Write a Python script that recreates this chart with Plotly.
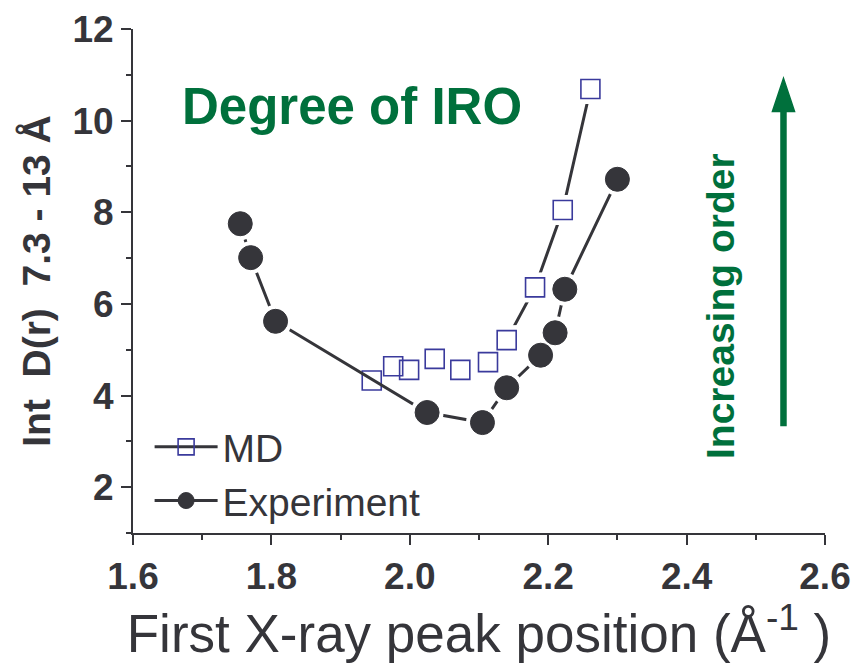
import plotly.graph_objects as go

# First X-ray peak position (1/Å) and integrated D(r) over 7.3-13 Å
md_q = [1.945, 1.976, 1.999, 2.036, 2.073, 2.113, 2.140, 2.181, 2.221, 2.261]
md_int = [4.33, 4.64, 4.56, 4.80, 4.56, 4.73, 5.21, 6.36, 8.05, 10.69]

exp_q = [1.755, 1.770, 1.806, 2.025, 2.105, 2.140, 2.189, 2.210, 2.224, 2.300]
exp_int = [7.75, 7.01, 5.62, 3.63, 3.41, 4.17, 4.88, 5.37, 6.32, 8.72]

x_tick_vals = [1.6, 1.8, 2.0, 2.2, 2.4, 2.6]
x_tick_text = ["1.6", "1.8", "2.0", "2.2", "2.4", "2.6"]
y_tick_vals = [2, 4, 6, 8, 10, 12]
y_tick_text = ["2", "4", "6", "8", "10", "12"]

INK = "#35353a"
BLUE = "#3a3a9c"
GREEN = "#00703c"
FONT = "Liberation Sans, Arial, Helvetica, sans-serif"

fig = go.Figure()


def add_series(q, val, name, marker, halo_symbol, halo_size):
    # full series (line + markers) carries the legend entry
    fig.add_trace(go.Scatter(x=q, y=val, mode="lines+markers", name=name,
                             line=dict(color=INK, width=3), marker=marker))
    # white halo so the line segments stop short of each marker
    fig.add_trace(go.Scatter(x=q, y=val, mode="markers", showlegend=False,
                             hoverinfo="skip",
                             marker=dict(symbol=halo_symbol, size=halo_size,
                                         color="white", line=dict(width=0))))
    # markers redrawn on top
    fig.add_trace(go.Scatter(x=q, y=val, mode="markers", showlegend=False,
                             hoverinfo="skip", marker=marker))


add_series(md_q, md_int, "MD",
           dict(symbol="square-open", size=19, color=BLUE,
                line=dict(width=1.6, color=BLUE)),
           "square", 30)
add_series(exp_q, exp_int, "Experiment",
           dict(symbol="circle", size=24, color=INK,
                line=dict(width=1, color=INK)),
           "circle", 33)

tick_font = dict(family=FONT, size=37, color=INK, weight="bold")

fig.update_layout(
    width=856, height=663,
    margin=dict(l=133, r=31, t=29, b=130),
    paper_bgcolor="white", plot_bgcolor="white",
    font=dict(family=FONT, color=INK),
    showlegend=True,
    legend=dict(x=0.024, y=0.0, xanchor="left", yanchor="bottom",
                bgcolor="rgba(0,0,0,0)", borderwidth=0, itemwidth=63,
                font=dict(family=FONT, size=39, color=INK),
                tracegroupgap=0),
    xaxis=dict(range=[1.6, 2.6], tickvals=x_tick_vals, ticktext=x_tick_text,
               ticks="outside", ticklen=10, tickwidth=2, tickcolor=INK,
               showline=True, linewidth=2, linecolor=INK, automargin=False,
               showgrid=False, zeroline=False, tickfont=tick_font,
               minor=dict(dtick=0.1, tick0=1.6, ticks="outside", ticklen=5,
                          tickwidth=2, tickcolor=INK, showgrid=False),
               title=dict(text="First X-ray peak position (Å<sup>-1</sup> )",
                          font=dict(family=FONT, size=53, color=INK),
                          standoff=20)),
    yaxis=dict(range=[1, 12], tickvals=y_tick_vals, ticktext=y_tick_text,
               ticks="outside", ticklen=10, tickwidth=2, tickcolor=INK,
               showline=True, linewidth=2, linecolor=INK, automargin=False,
               showgrid=False, zeroline=False, tickfont=tick_font,
               minor=dict(dtick=1, tick0=1, ticks="outside", ticklen=5,
                          tickwidth=2, tickcolor=INK, showgrid=False),
               title=dict(text="Int\u00a0\u00a0D(r)\u00a0\u00a07.3 - 13 Å",
                          font=dict(family=FONT, size=39, color=INK,
                                    weight="bold"),
                          standoff=10)),
    xaxis2=dict(overlaying="x", side="top", range=[1.6, 2.6], dtick=0.1,
                tick0=1.6, ticks="inside", ticklen=4, tickwidth=1.5,
                tickcolor=INK, showline=True, linewidth=2, linecolor=INK,
                automargin=False,
                showticklabels=False, showgrid=False, zeroline=False),
    yaxis2=dict(overlaying="y", side="right", range=[1, 12], dtick=1,
                tick0=1, ticks="inside", ticklen=4, tickwidth=1.5,
                tickcolor=INK, showline=True, linewidth=2, linecolor=INK,
                automargin=False,
                showticklabels=False, showgrid=False, zeroline=False),
)

# Annotations
fig.add_annotation(x=1.916, y=10.30, xref="x", yref="y", text="Degree of IRO",
                   showarrow=False, xanchor="center", yanchor="middle",
                   font=dict(family=FONT, size=51, color=GREEN, weight="bold"))
fig.add_annotation(x=2.448, y=5.95, xref="x", yref="y", text="Increasing order",
                   showarrow=False, textangle=-90, xanchor="center",
                   yanchor="middle",
                   font=dict(family=FONT, size=39, color=GREEN, weight="bold"))

# Upward arrow
arrow_x, arrow_y0, arrow_base, arrow_tip = 2.540, 3.33, 10.20, 10.92
half_w = 0.0160
fig.add_shape(type="line", xref="x", yref="y", x0=arrow_x, x1=arrow_x,
              y0=arrow_y0, y1=arrow_base + 0.05,
              line=dict(color=GREEN, width=6.5))
fig.add_shape(type="path", xref="x", yref="y",
              path=(f"M {arrow_x - half_w},{arrow_base} "
                    f"L {arrow_x},{arrow_tip} "
                    f"L {arrow_x + half_w},{arrow_base} Z"),
              fillcolor=GREEN, line=dict(color=GREEN, width=1.5))

fig.write_html("out.html")
